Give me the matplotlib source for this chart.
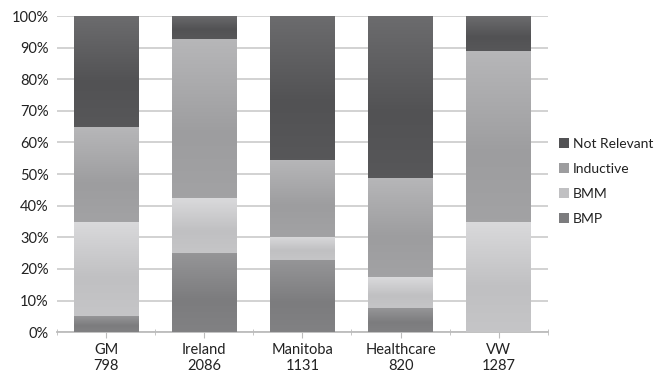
import matplotlib
matplotlib.use('Agg')
import matplotlib.pyplot as plt
import numpy as np
from matplotlib.colors import to_rgb

plt.rcParams['font.family'] = ['Lato', 'DejaVu Sans']

sites = ['GM', 'Ireland', 'Manitoba', 'Healthcare', 'VW']
counts = [798, 2086, 1131, 820, 1287]

# percentages per category, bottom to top
bmp = [5.0, 25.0, 22.8, 7.5, 0.0]
bmm = [30.0, 17.3, 7.4, 9.8, 35.0]
inductive = [30.0, 50.3, 24.4, 31.5, 54.0]
not_relevant = [35.0, 7.4, 45.4, 51.2, 11.0]

series = [('BMP', bmp, '#7c7c7e'),
          ('BMM', bmm, '#c0c0c2'),
          ('Inductive', inductive, '#9d9d9f'),
          ('Not Relevant', not_relevant, '#525254')]


def gradient_fill(ax, patch, color):
    """Paint an Excel-style vertical gradient over a bar segment."""
    x0, y0 = patch.get_x(), patch.get_y()
    w, h = patch.get_width(), patch.get_height()
    if h <= 0:
        return
    base = np.array(to_rgb(color))
    t = np.linspace(0, 1, 64)  # 0 = top, 1 = bottom
    lift = np.where(t < 0.6, 0.10 * (1 - t / 0.6), 0.02 * (t - 0.6) / 0.4)
    rgb = np.clip(base[None, :] + lift[:, None], 0, 1)
    img = rgb[:, None, :]
    ax.imshow(img, extent=(x0, x0 + w, y0, y0 + h), aspect='auto',
              interpolation='bilinear', zorder=3)


fig = plt.figure(figsize=(6.56, 3.74), dpi=100)
ax = fig.add_axes([0.087, 0.112, 0.748, 0.845])

x = np.arange(len(sites))
bottom = np.zeros(len(sites))
handles = []
for name, vals, color in series:
    bars = ax.bar(x, vals, width=0.66, bottom=bottom, color=color,
                  linewidth=0, zorder=2, label=name)
    for p in bars.patches:
        gradient_fill(ax, p, color)
    handles.append(bars)
    bottom += np.array(vals)

ax.set_xlim(-0.5, len(sites) - 0.5)
ax.set_ylim(0, 100)
ax.set_yticks(np.arange(0, 101, 10))
ax.set_yticklabels(['{}%'.format(v) for v in range(0, 101, 10)])
ax.yaxis.grid(True, color='#cfcfcf', linewidth=1.3, zorder=0)
ax.set_axisbelow(True)

ax.set_xticks(x)
ax.set_xticklabels(['{}\n{}'.format(s, c) for s, c in zip(sites, counts)],
                   linespacing=1.2)
ax.set_xticks(np.arange(-0.5, len(sites), 1), minor=True)
ax.tick_params(axis='x', which='major', length=4, color='#bcbcbc', pad=4,
               labelsize=10.5, labelcolor='#222222')
ax.tick_params(axis='x', which='minor', length=5, direction='inout',
               color='#bcbcbc')
ax.tick_params(axis='y', length=0, pad=6, labelsize=10.5, labelcolor='#222222')

for side in ['left', 'right', 'top']:
    ax.spines[side].set_visible(False)
ax.spines['bottom'].set_color('#bcbcbc')
ax.spines['bottom'].set_linewidth(1.3)

leg = fig.legend(handles[::-1], [s[0] for s in series][::-1],
                 loc='center left', bbox_to_anchor=(0.833, 0.515),
                 frameon=False, fontsize=10, handlelength=0.7,
                 handleheight=0.7, handletextpad=0.3, labelspacing=0.95)
for txt in leg.get_texts():
    txt.set_color('#222222')

fig.savefig('out.png', dpi=100)
